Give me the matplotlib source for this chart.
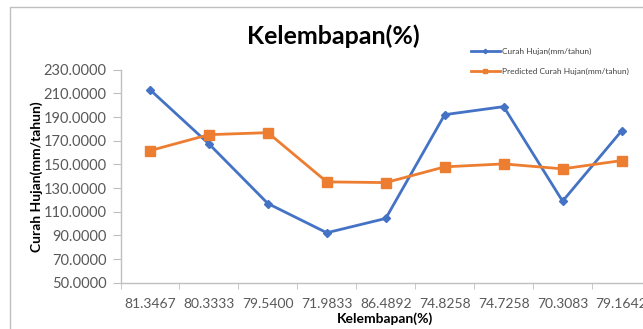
import matplotlib
matplotlib.use("Agg")
import matplotlib.pyplot as plt
from matplotlib.patches import Rectangle
import numpy as np

categories = ["81.3467", "80.3333", "79.5400", "71.9833", "86.4892",
              "74.8258", "74.7258", "70.3083", "79.1642"]
curah_hujan = [213.1, 167.3, 116.9, 92.2, 104.3, 192.0, 198.8, 118.9, 178.2]
predicted = [161.6, 175.1, 176.8, 135.2, 134.6, 147.9, 150.4, 146.2, 153.2]
y_ticks = [50, 70, 90, 110, 130, 150, 170, 190, 210, 230]

W, H = 643, 329
fig = plt.figure(figsize=(W / 100, H / 100), dpi=100)
plt.rcParams['font.family'] = ['Lato', 'DejaVu Sans']

# chart border (cropped at right/bottom)
fig.patches.append(Rectangle((10 / W, -0.1), 1.2, (H - 7) / H + 0.1, transform=fig.transFigure,
                             fill=False, edgecolor='#BFBFBF', linewidth=1.0))

left, right, top, bottom = 120.5, 651, 69.7, 282.7
ax = fig.add_axes([left / W, 1 - bottom / H, (right - left) / W, (bottom - top) / H])

x = np.arange(len(categories))
ax.plot(x, curah_hujan, color='#4472C4', lw=2, marker='D', ms=4.5,
        label='Curah Hujan(mm/tahun)')
ax.plot(x, predicted, color='#ED7D31', lw=2, marker='s', ms=7,
        label='Predicted Curah Hujan(mm/tahun)')

ax.set_xlim(-0.5, len(categories) - 0.5)
ax.set_ylim(50, 230)
ax.set_yticks(y_ticks)
ax.set_yticklabels([f"{v:.4f}" for v in y_ticks])
ax.set_xticks(x)
ax.set_xticklabels(categories)
ax.set_xticks(np.arange(-0.5, len(categories) + 0.5, 1), minor=True)
ax.tick_params(axis='x', which='major', length=0, pad=11, labelsize=10, colors='#595959')
ax.tick_params(axis='x', which='minor', length=4.5, color='#BFBFBF', direction='out')
ax.tick_params(axis='y', length=6, color='#BFBFBF', labelsize=10.5, labelcolor='#595959', pad=4)

for s in ['top', 'right']:
    ax.spines[s].set_visible(False)
for s in ['left', 'bottom']:
    ax.spines[s].set_color('#BFBFBF')
    ax.spines[s].set_linewidth(1.0)

fig.text(333 / W, 1 - 36 / H, "Kelembapan(%)", ha='center', va='center',
         fontsize=18, fontweight='bold', color='#000000')
fig.text(37 / W, 1 - 177 / H, "Curah Hujan(mm/tahun)", ha='center', va='center',
         rotation=90, fontsize=10, fontweight='bold', color='#000000')
fig.text(385 / W, 1 - 319 / H, "Kelembapan(%)", ha='center', va='center',
         fontsize=10, fontweight='bold', color='#000000')

leg = fig.legend(loc='upper left', bbox_to_anchor=(463 / W, 1 - 40 / H),
                 frameon=False, fontsize=6, handlelength=3.5, handletextpad=0.3,
                 labelspacing=1.6, markerscale=0.5)
for t in leg.get_texts():
    t.set_color('#404040')

fig.savefig("out.png", dpi=100)
